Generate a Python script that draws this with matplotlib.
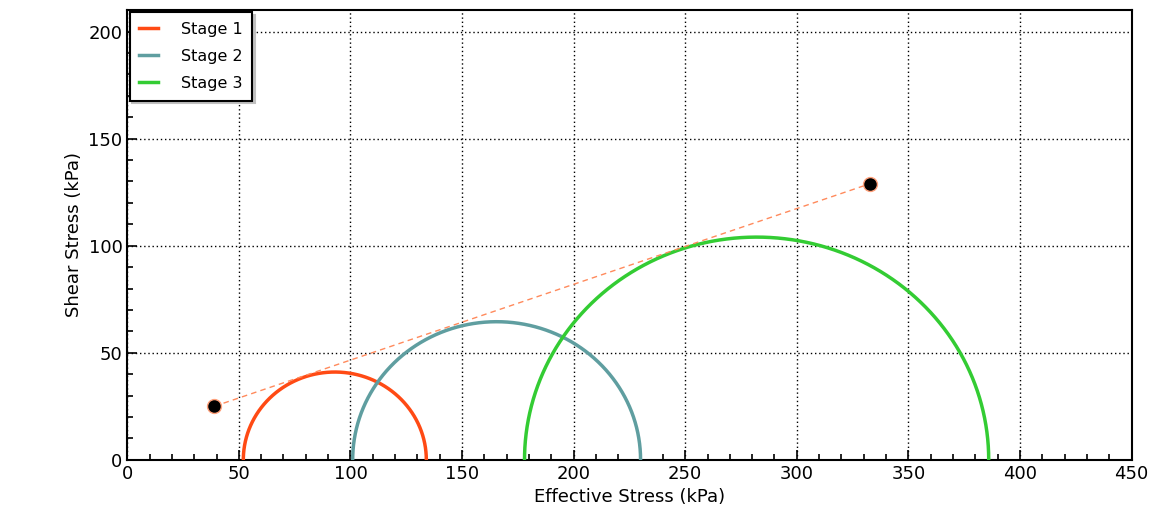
import numpy as np
import matplotlib
matplotlib.use("Agg")
import matplotlib.pyplot as plt
from matplotlib.ticker import MultipleLocator

# Mohr circles: minor / major effective principal stresses (kPa)
stages = ["Stage 1", "Stage 2", "Stage 3"]
sigma3 = [52, 101, 178]
sigma1 = [134, 230, 386]
colors = ["#ff4a14", "#5f9ea0", "#33cc33"]

# failure envelope end points
env_x = [39, 333]
env_y = [25, 129]

fig = plt.figure(figsize=(11.57, 5.31), dpi=100)
ax = fig.add_axes([0.110, 0.134, 0.868, 0.847])

theta = np.linspace(0, np.pi, 400)
for name, s3, s1, c in zip(stages, sigma3, sigma1, colors):
    centre = (s1 + s3) / 2
    radius = (s1 - s3) / 2
    ax.plot(centre + radius * np.cos(theta), radius * np.sin(theta),
            color=c, lw=2.5, label=name, zorder=3)

ax.plot(env_x, env_y, color="#ff8a5c", lw=1, ls=(0, (4, 3)), zorder=4)
ax.plot(env_x, env_y, ls="none", marker="o", ms=10, mfc="black",
        mec="#ffa07a", mew=1, zorder=5)

ax.set_xlim(0, 450)
ax.set_ylim(0, 210)
ax.xaxis.set_major_locator(MultipleLocator(50))
ax.xaxis.set_minor_locator(MultipleLocator(10))
ax.yaxis.set_major_locator(MultipleLocator(50))
ax.yaxis.set_minor_locator(MultipleLocator(10))
ax.tick_params(which="both", direction="in", top=False, right=False,
               labelsize=13, colors="black")
ax.tick_params(which="major", length=7, width=1.2)
ax.tick_params(which="minor", length=4, width=1.2)
ax.grid(True, which="major", color="black", ls=(0, (1, 2)), lw=1)
for sp in ax.spines.values():
    sp.set_linewidth(1.5)

ax.set_xlabel("Effective Stress (kPa)", fontsize=13)
ax.set_ylabel("Shear Stress (kPa)", fontsize=13)

leg = ax.legend(loc="upper left", fontsize=11.5, fancybox=False,
                shadow={"color": "#c0c0c0", "alpha": 1},
                framealpha=1, edgecolor="black", handlelength=1.2,
                handletextpad=1.4, labelspacing=0.75, borderpad=0.6,
                borderaxespad=0.15)
leg.get_frame().set_linewidth(1.5)

fig.savefig("out.png", dpi=100)
